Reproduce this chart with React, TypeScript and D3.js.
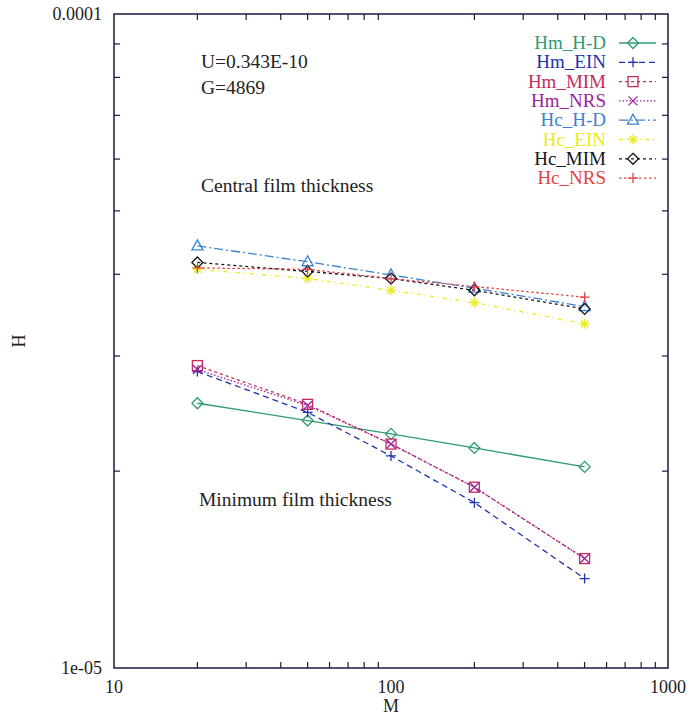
import React from "react";
import * as d3 from "d3";

const mValues = [20, 50, 100, 200, 500];
const seriesNames = ["Hm_H-D", "Hm_EIN", "Hm_MIM", "Hm_NRS", "Hc_H-D", "Hc_EIN", "Hc_MIM", "Hc_NRS"];
const hmHD = [2.54e-5, 2.39e-5, 2.28e-5, 2.17e-5, 2.03e-5];
const hmEIN = [2.84e-5, 2.46e-5, 2.11e-5, 1.79e-5, 1.37e-5];
const hmMIM = [2.9e-5, 2.53e-5, 2.2e-5, 1.89e-5, 1.47e-5];
const hmNRS = [2.86e-5, 2.52e-5, 2.2e-5, 1.89e-5, 1.47e-5];
const hcHD = [4.42e-5, 4.18e-5, 3.99e-5, 3.81e-5, 3.57e-5];
const hcEIN = [4.07e-5, 3.94e-5, 3.78e-5, 3.62e-5, 3.36e-5];
const hcMIM = [4.17e-5, 4.04e-5, 3.94e-5, 3.78e-5, 3.54e-5];
const hcNRS = [4.09e-5, 4.07e-5, 3.94e-5, 3.83e-5, 3.69e-5];
const seriesValues = [hmHD, hmEIN, hmMIM, hmNRS, hcHD, hcEIN, hcMIM, hcNRS];
const xTickLabels = ["10", "100", "1000"];
const yTickLabels = ["1e-05", "0.0001"];

const colors = ["#2f9a72", "#2233b0", "#c42c5c", "#a0229e", "#3c82d4", "#eaea1c", "#141420", "#e04444"];
const dashes = ["none", "6,4", "3,3", "1.5,2", "9,3,2,3", "4,4,1,4", "3,3", "2.5,2.5"];
const markers = ["diamond", "plus", "square", "cross", "triangle", "star", "diamond", "plus"];

const L = 114, R = 668, T = 14, B = 668;
const FONT = "'Liberation Serif', 'DejaVu Serif', serif";

function marker(kind: string, x: number, y: number, color: string, key: string) {
  const s = 5;
  const common = { fill: "none", stroke: color, strokeWidth: 1.3 } as any;
  switch (kind) {
    case "diamond":
      return <path key={key} d={`M${x},${y - s - 0.5}L${x + s + 0.5},${y}L${x},${y + s + 0.5}L${x - s - 0.5},${y}Z`} {...common} />;
    case "square":
      return <rect key={key} x={x - s} y={y - s} width={2 * s} height={2 * s} {...common} />;
    case "triangle":
      return <path key={key} d={`M${x},${y - s - 1}L${x + s + 0.5},${y + s - 1}L${x - s - 0.5},${y + s - 1}Z`} {...common} />;
    case "plus":
      return <path key={key} d={`M${x - s},${y}H${x + s}M${x},${y - s}V${y + s}`} {...common} />;
    case "cross":
      return <path key={key} d={`M${x - s + 0.5},${y - s + 0.5}L${x + s - 0.5},${y + s - 0.5}M${x - s + 0.5},${y + s - 0.5}L${x + s - 0.5},${y - s + 0.5}`} {...common} />;
    case "star":
      return <path key={key} d={`M${x - s},${y}H${x + s}M${x},${y - s}V${y + s}M${x - 3.5},${y - 3.5}L${x + 3.5},${y + 3.5}M${x - 3.5},${y + 3.5}L${x + 3.5},${y - 3.5}`} {...common} />;
  }
  return null;
}

export default function App() {
  const x = d3.scaleLog().domain([10, 1000]).range([L, R]);
  const y = d3.scaleLog().domain([1e-5, 1e-4]).range([B, T]);
  const line = d3.line<[number, number]>().x(d => x(d[0])).y(d => y(d[1]));

  const xMinor: number[] = [];
  for (const dec of [10, 100]) for (let k = 2; k <= 9; k++) xMinor.push(dec * k);
  const yMinor: number[] = [];
  for (let k = 2; k <= 9; k++) yMinor.push(1e-5 * k);

  const axisColor = "#1a1a40";
  const legendRight = 606;
  const legendY0 = 43;
  const legendStep = 19.3;

  return (
    <svg width={691} height={716} style={{ position: "absolute", left: 0, top: 0, background: "#fff" }} fontFamily={FONT}>
      <rect x={0} y={0} width={691} height={716} fill="#fff" />
      {/* ticks */}
      {xMinor.map(v => (
        <g key={"xm" + v}>
          <line x1={x(v)} x2={x(v)} y1={B} y2={B - (v === 100 ? 10 : 6)} stroke={axisColor} strokeWidth={1.2} />
          <line x1={x(v)} x2={x(v)} y1={T} y2={T + (v === 100 ? 10 : 6)} stroke={axisColor} strokeWidth={1.2} />
        </g>
      ))}
      {yMinor.map(v => (
        <g key={"ym" + v}>
          <line x1={L} x2={L + 6} y1={y(v)} y2={y(v)} stroke={axisColor} strokeWidth={1.2} />
          <line x1={R} x2={R - 6} y1={y(v)} y2={y(v)} stroke={axisColor} strokeWidth={1.2} />
        </g>
      ))}
      <rect x={L} y={T} width={R - L} height={B - T} fill="none" stroke={axisColor} strokeWidth={1.5} />
      {/* tick labels */}
      {[10, 100, 1000].map((v, i) => (
        <text key={"xl" + v} x={x(v)} y={B + 25} textAnchor="middle" fontSize={18} fill="#222">{xTickLabels[i]}</text>
      ))}
      {[1e-5, 1e-4].map((v, i) => (
        <text key={"yl" + i} x={L - 12} y={y(v) + 6} textAnchor="end" fontSize={18} fill="#222">{yTickLabels[i]}</text>
      ))}
      <text x={x(100)} y={B + 44} textAnchor="middle" fontSize={18} fill="#222">M</text>
      <text transform={`translate(25,341) rotate(-90)`} textAnchor="middle" fontSize={18} fill="#222">H</text>
      {/* annotations */}
      <text x={201} y={68} fontSize={19.5} fill="#222">U=0.343E-10</text>
      <text x={201} y={94} fontSize={19.5} fill="#222">G=4869</text>
      <text x={201} y={192} fontSize={19.5} fill="#222">Central film thickness</text>
      <text x={199} y={506} fontSize={19.5} fill="#222">Minimum film thickness</text>
      {/* series */}
      {seriesValues.map((vals, si) => {
        const pts = mValues.map((m, i) => [m, vals[i]] as [number, number]);
        return (
          <g key={"s" + si}>
            <path d={line(pts) || ""} fill="none" stroke={colors[si]} strokeWidth={1.3} strokeDasharray={dashes[si]} />
            {pts.map((p, i) => marker(markers[si], x(p[0]), y(p[1]), colors[si], `m${si}-${i}`))}
          </g>
        );
      })}
      {/* legend */}
      {seriesNames.map((name, si) => {
        const cy = legendY0 + si * legendStep;
        return (
          <g key={"lg" + si}>
            <text x={legendRight} y={cy + 6} textAnchor="end" fontSize={19} fill={colors[si]}>{name}</text>
            <line x1={619} x2={656} y1={cy} y2={cy} stroke={colors[si]} strokeWidth={1.3} strokeDasharray={dashes[si]} />
            {marker(markers[si], 633, cy, colors[si], "lm" + si)}
          </g>
        );
      })}
    </svg>
  );
}
